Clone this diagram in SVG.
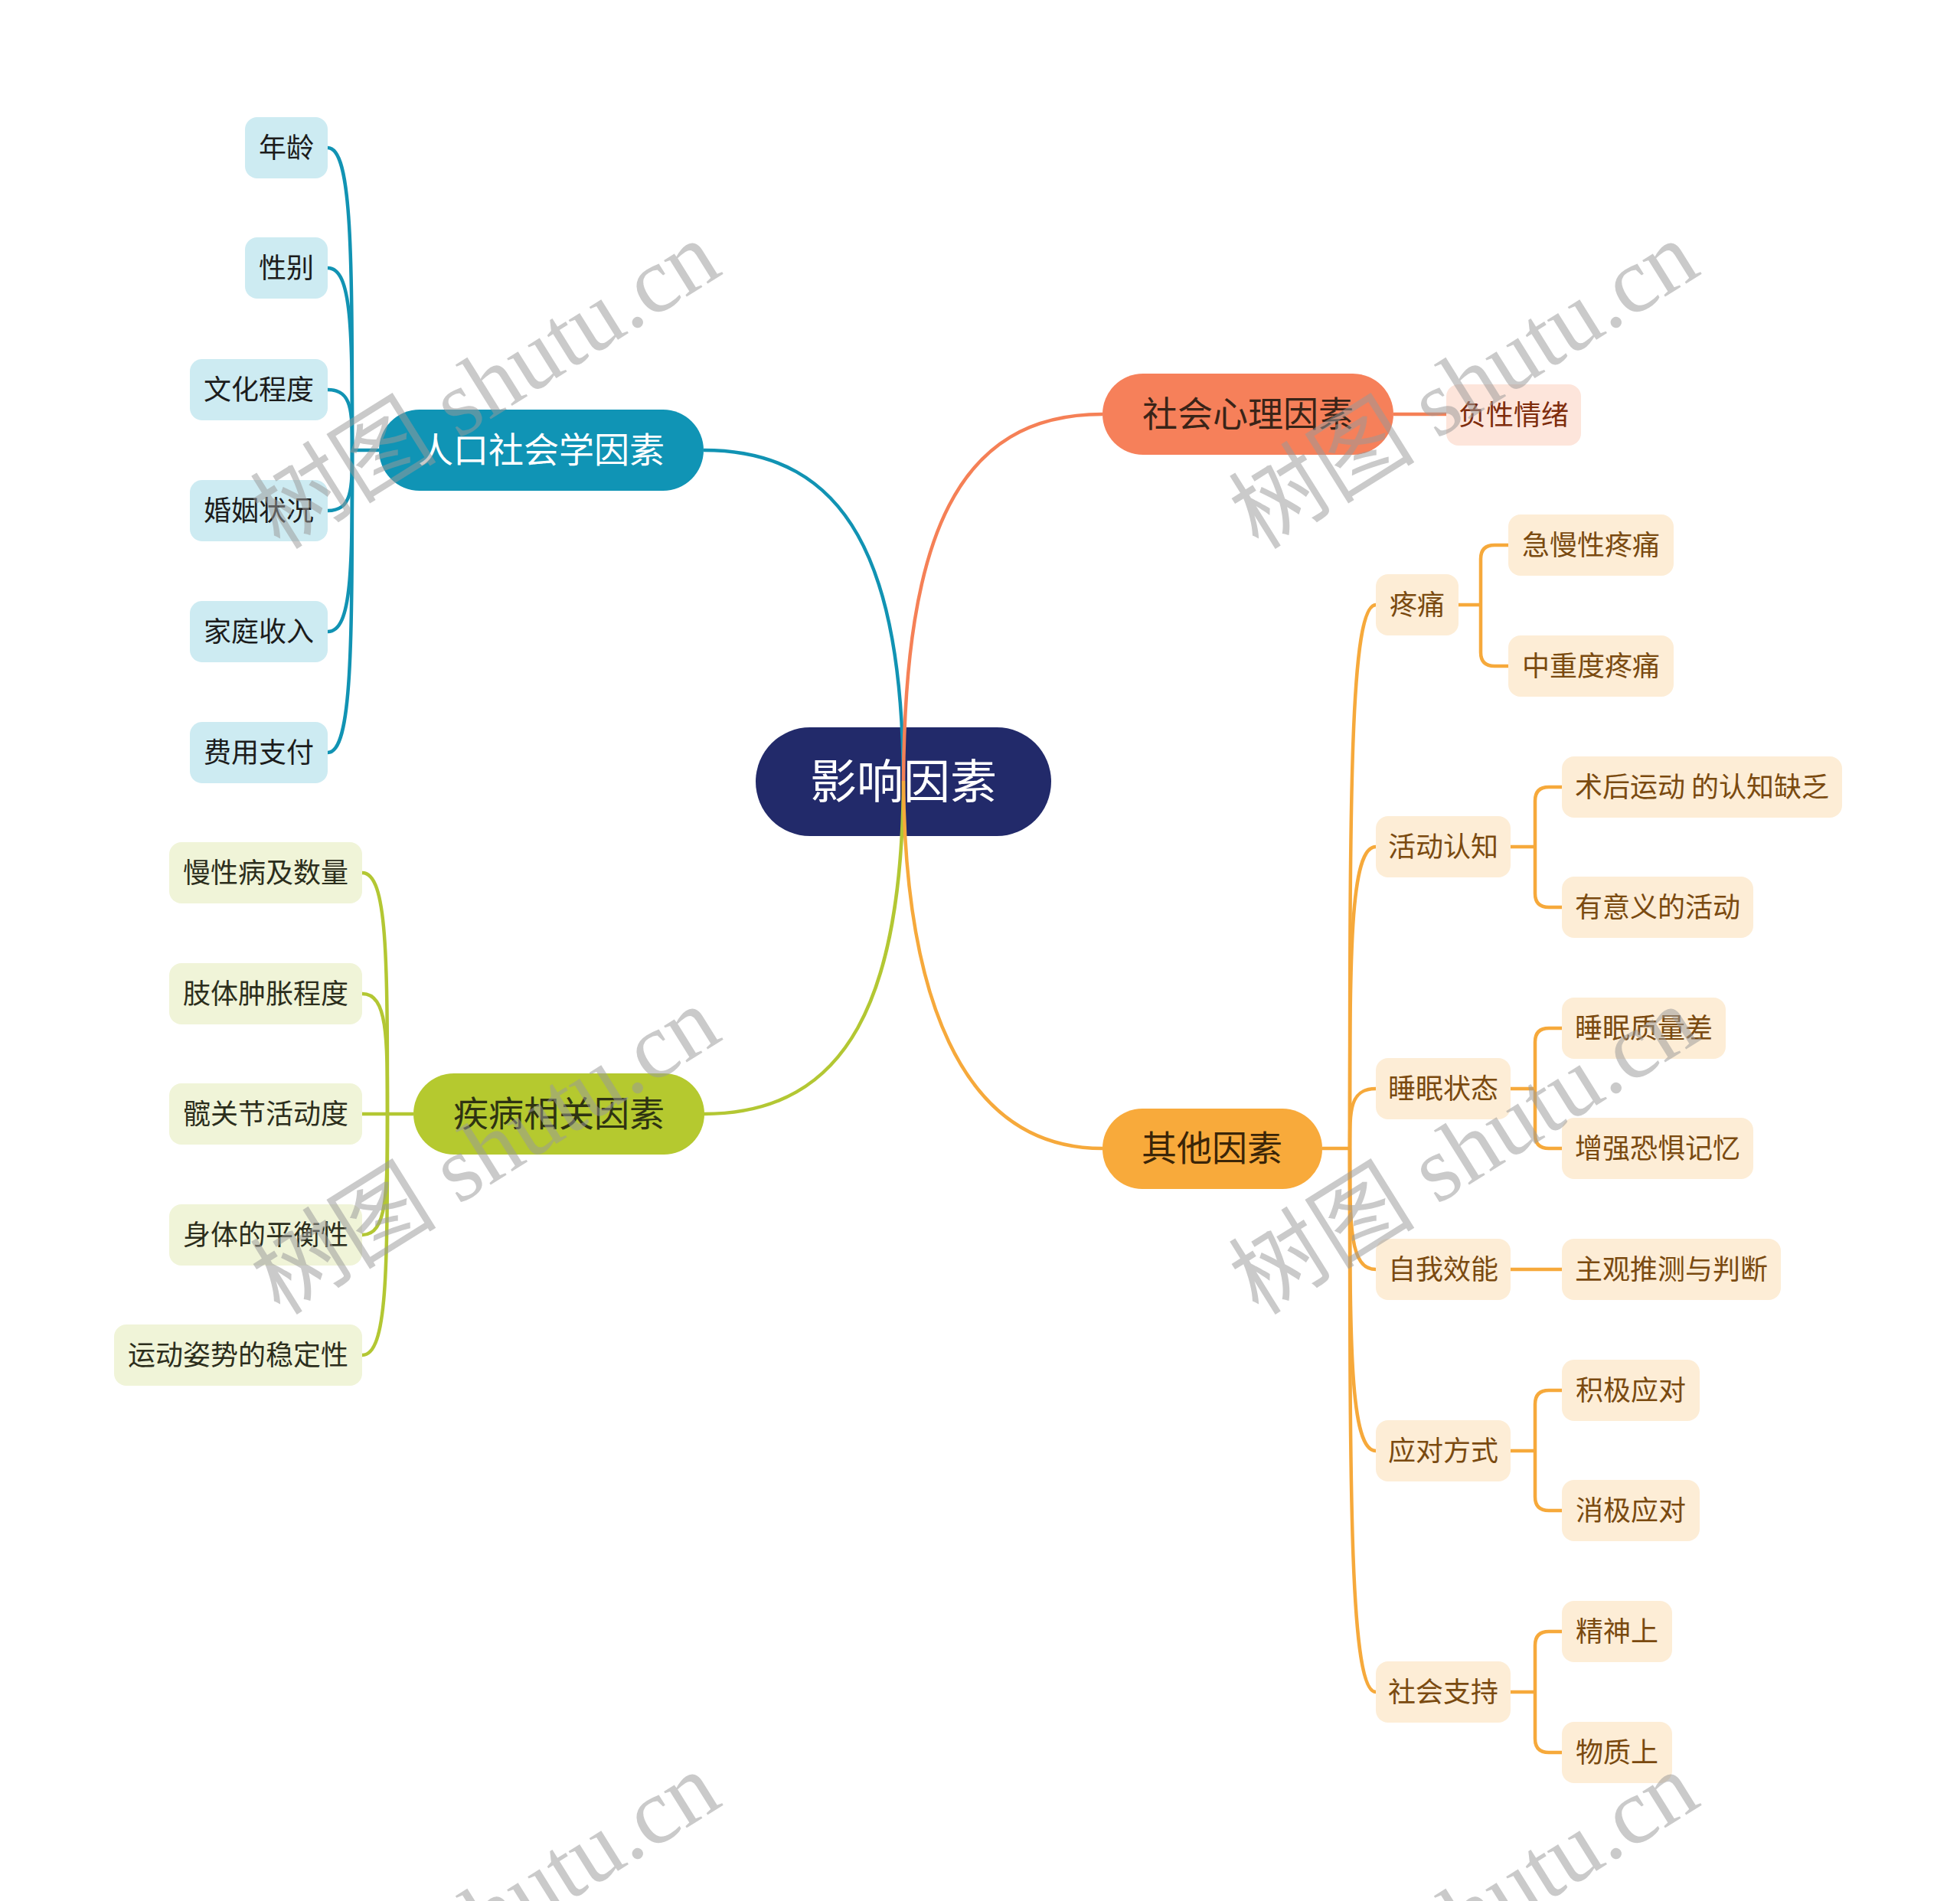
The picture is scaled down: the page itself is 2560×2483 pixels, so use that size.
<svg xmlns="http://www.w3.org/2000/svg" width="2560" height="2483" viewBox="0 0 2560 2483">
<style>
text{font-family:"Noto Sans CJK SC","Noto Sans",sans-serif;text-anchor:middle}
.c36{font-size:36px}
.c45{font-size:46px}
.lb{fill:#CDEBF2}.tb{fill:#1c1c1c}
.lg{fill:#F0F4D8}.tg{fill:#2c2e1c}
.lo{fill:#FDEDD6}.to{fill:#7A4A10}
.cb{fill:none;stroke:#1193B3;stroke-width:4.5}
.cr{fill:none;stroke:#F58056;stroke-width:4.5}
.cg{fill:none;stroke:#B3C733;stroke-width:4.5}
.co{fill:none;stroke:#F6A93B;stroke-width:4.5}
.wm{font-family:"Liberation Serif","Noto Sans CJK SC",serif;font-size:122px;fill:#9a9a9a;opacity:0.52}
</style>
<rect width="2560" height="2483" fill="#ffffff"/>

<g id="root">
<rect x="987" y="950" width="386" height="142" rx="71" fill="#222A6A"/>
<text x="1180" y="1043" font-size="61" fill="#ffffff">影响因素</text>
</g>

<g id="connectors">
<path class="cb" d="M919 588 C1110 588 1178 740 1180 1020"/>
<path class="cr" d="M1440 541 C1250 541 1182 700 1180 1020"/>
<path class="cg" d="M919 1455 C1110 1455 1178 1300 1180 1020"/>
<path class="co" d="M1440 1500 C1250 1500 1182 1290 1180 1020"/>
<path class="cb" d="M495 588 L460 588"/>
<path class="cb" d="M428 193 C460 193 460 331 460 588"/>
<path class="cb" d="M428 350 C460 350 460 433 460 588"/>
<path class="cb" d="M428 509 C460 509 460 537 460 588"/>
<path class="cb" d="M428 667 C460 667 460 639 460 588"/>
<path class="cb" d="M428 825 C460 825 460 742 460 588"/>
<path class="cb" d="M428 983 C460 983 460 845 460 588"/>
<path class="cr" d="M1820 541 L1889 541"/>
<path class="cg" d="M540 1455 L473 1455"/>
<path class="cg" d="M473 1140 C506 1140 506 1250 506 1455"/>
<path class="cg" d="M473 1298 C506 1298 506 1353 506 1455"/>
<path class="cg" d="M473 1613 C506 1613 506 1558 506 1455"/>
<path class="cg" d="M473 1770 C506 1770 506 1660 506 1455"/>
<path class="co" d="M1727 1500 L1763 1500"/>
<path class="co" d="M1797 790 C1763 790 1763 1038 1763 1500"/>
<path class="co" d="M1797 1106 C1763 1106 1763 1244 1763 1500"/>
<path class="co" d="M1797 1422 C1763 1422 1763 1449 1763 1500"/>
<path class="co" d="M1797 1658 C1763 1658 1763 1603 1763 1500"/>
<path class="co" d="M1797 1895 C1763 1895 1763 1757 1763 1500"/>
<path class="co" d="M1797 2210 C1763 2210 1763 1960 1763 1500"/>
<path class="co" d="M1902 790 L1934 790 M1970 712 L1952 712 Q1934 712 1934 730 L1934 852 Q1934 870 1952 870 L1970 870"/>
<path class="co" d="M1973 1106 L2005 1106 M2040 1028 L2023 1028 Q2005 1028 2005 1046 L2005 1167 Q2005 1185 2023 1185 L2040 1185"/>
<path class="co" d="M1973 1422 L2005 1422 M2040 1343 L2023 1343 Q2005 1343 2005 1361 L2005 1482 Q2005 1500 2023 1500 L2040 1500"/>
<path class="co" d="M1973 1658 L2040 1658"/>
<path class="co" d="M1973 1895 L2005 1895 M2040 1816 L2023 1816 Q2005 1816 2005 1834 L2005 1955 Q2005 1973 2023 1973 L2040 1973"/>
<path class="co" d="M1973 2210 L2005 2210 M2040 2131 L2023 2131 Q2005 2131 2005 2149 L2005 2271 Q2005 2289 2023 2289 L2040 2289"/>
</g>

<g id="n-renkou">
<rect x="495" y="535" width="424" height="106" rx="53" fill="#1094B5"/>
<text class="c45" x="707" y="604" fill="#ffffff">人口社会学因素</text>
</g>
<g id="n-nianling"><rect class="lb" x="320" y="153" width="108" height="80" rx="16"/><text class="c36 tb" x="374" y="206">年龄</text></g>
<g id="n-xingbie"><rect class="lb" x="320" y="310" width="108" height="80" rx="16"/><text class="c36 tb" x="374" y="363">性别</text></g>
<g id="n-wenhua"><rect class="lb" x="248" y="469" width="180" height="80" rx="16"/><text class="c36 tb" x="338" y="522">文化程度</text></g>
<g id="n-hunyin"><rect class="lb" x="248" y="627" width="180" height="80" rx="16"/><text class="c36 tb" x="338" y="680">婚姻状况</text></g>
<g id="n-jiating"><rect class="lb" x="248" y="785" width="180" height="80" rx="16"/><text class="c36 tb" x="338" y="838">家庭收入</text></g>
<g id="n-feiyong"><rect class="lb" x="248" y="943" width="180" height="80" rx="16"/><text class="c36 tb" x="338" y="996">费用支付</text></g>

<g id="n-shehui">
<rect x="1440" y="488" width="380" height="106" rx="53" fill="#F6805A"/>
<text class="c45" x="1630" y="557" fill="#3a2418">社会心理因素</text>
</g>
<g id="n-fuxing"><rect x="1889" y="502" width="176" height="80" rx="16" fill="#FDE5DB"/><text class="c36" x="1977" y="555" fill="#7E2C0C">负性情绪</text></g>

<g id="n-jibing">
<rect x="540" y="1402" width="380" height="106" rx="53" fill="#B5C92F"/>
<text class="c45" x="730" y="1471" fill="#2e3312">疾病相关因素</text>
</g>
<g id="n-manxing"><rect class="lg" x="221" y="1100" width="252" height="80" rx="16"/><text class="c36 tg" x="347" y="1153">慢性病及数量</text></g>
<g id="n-zhiti"><rect class="lg" x="221" y="1258" width="252" height="80" rx="16"/><text class="c36 tg" x="347" y="1311">肢体肿胀程度</text></g>
<g id="n-kuan"><rect class="lg" x="221" y="1415" width="252" height="80" rx="16"/><text class="c36 tg" x="347" y="1468">髋关节活动度</text></g>
<g id="n-shenti"><rect class="lg" x="221" y="1573" width="252" height="80" rx="16"/><text class="c36 tg" x="347" y="1626">身体的平衡性</text></g>
<g id="n-yundong"><rect class="lg" x="149" y="1730" width="324" height="80" rx="16"/><text class="c36 tg" x="311" y="1783">运动姿势的稳定性</text></g>

<g id="n-qita">
<rect x="1440" y="1448" width="287" height="105" rx="52" fill="#F8AA3B"/>
<text class="c45" x="1583" y="1516" fill="#3a2508">其他因素</text>
</g>
<g id="n-tengtong"><rect class="lo" x="1797" y="750" width="108" height="80" rx="16"/><text class="c36 to" x="1851" y="803">疼痛</text></g>
<g id="n-jimanxing"><rect class="lo" x="1970" y="672" width="216" height="80" rx="16"/><text class="c36 to" x="2078" y="725">急慢性疼痛</text></g>
<g id="n-zhongzhong"><rect class="lo" x="1970" y="830" width="216" height="80" rx="16"/><text class="c36 to" x="2078" y="883">中重度疼痛</text></g>
<g id="n-huodong"><rect class="lo" x="1797" y="1066" width="176" height="80" rx="16"/><text class="c36 to" x="1885" y="1119">活动认知</text></g>
<g id="n-shuhou"><rect class="lo" x="2040" y="988" width="366" height="80" rx="16"/><text class="c36 to" x="2223" y="1041">术后运动 的认知缺乏</text></g>
<g id="n-youyiyi"><rect class="lo" x="2040" y="1145" width="250" height="80" rx="16"/><text class="c36 to" x="2165" y="1198">有意义的活动</text></g>
<g id="n-shuimian"><rect class="lo" x="1797" y="1382" width="176" height="80" rx="16"/><text class="c36 to" x="1885" y="1435">睡眠状态</text></g>
<g id="n-zhiliang"><rect class="lo" x="2040" y="1303" width="214" height="80" rx="16"/><text class="c36 to" x="2147" y="1356">睡眠质量差</text></g>
<g id="n-zengqiang"><rect class="lo" x="2040" y="1460" width="250" height="80" rx="16"/><text class="c36 to" x="2165" y="1513">增强恐惧记忆</text></g>
<g id="n-ziwo"><rect class="lo" x="1797" y="1618" width="176" height="80" rx="16"/><text class="c36 to" x="1885" y="1671">自我效能</text></g>
<g id="n-zhuguan"><rect class="lo" x="2040" y="1618" width="286" height="80" rx="16"/><text class="c36 to" x="2183" y="1671">主观推测与判断</text></g>
<g id="n-yingdui"><rect class="lo" x="1797" y="1855" width="176" height="80" rx="16"/><text class="c36 to" x="1885" y="1908">应对方式</text></g>
<g id="n-jiji"><rect class="lo" x="2040" y="1776" width="180" height="80" rx="16"/><text class="c36 to" x="2130" y="1829">积极应对</text></g>
<g id="n-xiaoji"><rect class="lo" x="2040" y="1933" width="180" height="80" rx="16"/><text class="c36 to" x="2130" y="1986">消极应对</text></g>
<g id="n-zhichi"><rect class="lo" x="1797" y="2170" width="176" height="80" rx="16"/><text class="c36 to" x="1885" y="2223">社会支持</text></g>
<g id="n-jingshen"><rect class="lo" x="2040" y="2091" width="144" height="80" rx="16"/><text class="c36 to" x="2112" y="2144">精神上</text></g>
<g id="n-wuzhi"><rect class="lo" x="2040" y="2249" width="144" height="80" rx="16"/><text class="c36 to" x="2112" y="2302">物质上</text></g>

<g id="watermarks">
<text class="wm" transform="translate(656 538) rotate(-32)">树图 shutu.cn</text>
<text class="wm" transform="translate(1934 538) rotate(-32)">树图 shutu.cn</text>
<text class="wm" transform="translate(656 1538) rotate(-32)">树图 shutu.cn</text>
<text class="wm" transform="translate(1934 1538) rotate(-32)">树图 shutu.cn</text>
<text class="wm" transform="translate(656 2538) rotate(-32)">树图 shutu.cn</text>
<text class="wm" transform="translate(1934 2538) rotate(-32)">树图 shutu.cn</text>
</g>
</svg>
